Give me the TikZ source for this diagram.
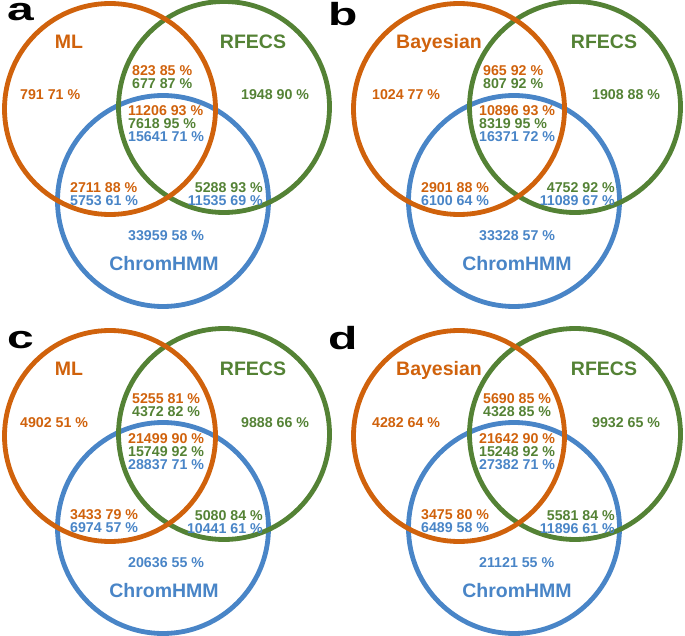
\documentclass[tikz,border=0pt]{standalone}
\usepackage{fontspec}
\setmainfont{Liberation Sans}
\definecolor{cO}{RGB}{208,98,12}
\definecolor{cG}{RGB}{84,130,53}
\definecolor{cB}{RGB}{73,133,199}
\begin{document}
\begin{tikzpicture}[x=1pt,y=-1pt,
  ring/.style={circle, draw, line width=4.8pt, minimum size=211pt, inner sep=0pt},
  numl/.style={font=\fontsize{14.2}{14.2}\selectfont\bfseries, inner sep=0pt, anchor=base west},
  numr/.style={font=\fontsize{14.2}{14.2}\selectfont\bfseries, inner sep=0pt, anchor=base east},
  ttl/.style={font=\fontsize{19.5}{19.5}\selectfont\bfseries, inner sep=0pt, anchor=base},
  plabel/.style={font=\fontsize{32}{32}\selectfont\bfseries, inner sep=0pt, anchor=base west}]
\useasboundingbox (0,0) rectangle (685,636);
% ---------- panel a ----------
\begin{scope}
\node[ring, draw=cB] (aB) at (163,201) {};
\node[ring, draw=cG] (aG) at (224,107) {};
\node[ring, draw=cO] (aO) at (110,109) {};
\node[plabel] (aLab) at (7,21) {\scalebox{1.5}[1]{a}};
\node[ttl, text=cO] (aT1) at (69,48.5) {ML};
\node[ttl, text=cG] (aT2) at (253,48.5) {RFECS};
\node[ttl, text=cB] (aT3) at (164,270.5) {ChromHMM};
\node[numl, text=cO] (aL) at (20,100) {791 71 \%};
\node[numl, text=cO] (aU1) at (132,76) {823 85 \%};
\node[numl, text=cG] (aU2) at (132,89) {677 87 \%};
\node[numl, text=cG] (aR) at (241,100) {1948 90 \%};
\node[numl, text=cO] (aC1) at (128,116) {11206 93 \%};
\node[numl, text=cG] (aC2) at (128,129) {7618 95 \%};
\node[numl, text=cB] (aC3) at (128,142) {15641 71 \%};
\node[numl, text=cO] (aBL1) at (70,192.5) {2711 88 \%};
\node[numl, text=cB] (aBL2) at (70,205.5) {5753 61 \%};
\node[numr, text=cG] (aBR1) at (263,193) {5288 93 \%};
\node[numr, text=cB] (aBR2) at (263,206) {11535 69 \%};
\node[numl, text=cB] (aBot) at (128,240.5) {33959 58 \%};
\end{scope}
% ---------- panel b ----------
\begin{scope}[shift={(351,0)}]
\node[ring, draw=cB] (bB) at (163,201) {};
\node[ring, draw=cG] (bG) at (224,107) {};
\node[ring, draw=cO] (bO) at (108,109) {};
\node[plabel] (bLab) at (-23,26) {\scalebox{1.5}[1]{b}};
\node[ttl, text=cO] (bT1) at (88,48.5) {Bayesian};
\node[ttl, text=cG] (bT2) at (253,48.5) {RFECS};
\node[ttl, text=cB] (bT3) at (166,270.5) {ChromHMM};
\node[numl, text=cO] (bL) at (21,100) {1024 77 \%};
\node[numl, text=cO] (bU1) at (132,76) {965 92 \%};
\node[numl, text=cG] (bU2) at (132,89) {807 92 \%};
\node[numl, text=cG] (bR) at (241,100) {1908 88 \%};
\node[numl, text=cO] (bC1) at (128,116) {10896 93 \%};
\node[numl, text=cG] (bC2) at (128,129) {8319 95 \%};
\node[numl, text=cB] (bC3) at (128,142) {16371 72 \%};
\node[numl, text=cO] (bBL1) at (70,192.5) {2901 88 \%};
\node[numl, text=cB] (bBL2) at (70,205.5) {6100 64 \%};
\node[numr, text=cG] (bBR1) at (264,193) {4752 92 \%};
\node[numr, text=cB] (bBR2) at (264,206) {11089 67 \%};
\node[numl, text=cB] (bBot) at (128,240.5) {33328 57 \%};
\end{scope}
% ---------- panel c ----------
\begin{scope}[shift={(0,327)}]
\node[ring, draw=cB] (cB) at (163,201) {};
\node[ring, draw=cG] (cG) at (224,107) {};
\node[ring, draw=cO] (cO) at (110,109) {};
\node[plabel] (cLab) at (7,21) {\scalebox{1.5}[1]{c}};
\node[ttl, text=cO] (cT1) at (69,48.5) {ML};
\node[ttl, text=cG] (cT2) at (253,48.5) {RFECS};
\node[ttl, text=cB] (cT3) at (164,270.5) {ChromHMM};
\node[numl, text=cO] (cL) at (20,100) {4902 51 \%};
\node[numl, text=cO] (cU1) at (132,76) {5255 81 \%};
\node[numl, text=cG] (cU2) at (132,89) {4372 82 \%};
\node[numl, text=cG] (cR) at (241,100) {9888 66 \%};
\node[numl, text=cO] (cC1) at (128,116) {21499 90 \%};
\node[numl, text=cG] (cC2) at (128,129) {15749 92 \%};
\node[numl, text=cB] (cC3) at (128,142) {28837 71 \%};
\node[numl, text=cO] (cBL1) at (70,192.5) {3433 79 \%};
\node[numl, text=cB] (cBL2) at (70,205.5) {6974 57 \%};
\node[numr, text=cG] (cBR1) at (263,193) {5080 84 \%};
\node[numr, text=cB] (cBR2) at (263,206) {10441 61 \%};
\node[numl, text=cB] (cBot) at (128,240.5) {20636 55 \%};
\end{scope}
% ---------- panel d ----------
\begin{scope}[shift={(351,327)}]
\node[ring, draw=cB] (dB) at (163,201) {};
\node[ring, draw=cG] (dG) at (224,107) {};
\node[ring, draw=cO] (dO) at (108,109) {};
\node[plabel] (dLab) at (-23,22) {\scalebox{1.5}[1]{d}};
\node[ttl, text=cO] (dT1) at (88,48.5) {Bayesian};
\node[ttl, text=cG] (dT2) at (253,48.5) {RFECS};
\node[ttl, text=cB] (dT3) at (166,270.5) {ChromHMM};
\node[numl, text=cO] (dL) at (21,100) {4282 64 \%};
\node[numl, text=cO] (dU1) at (132,76) {5690 85 \%};
\node[numl, text=cG] (dU2) at (132,89) {4328 85 \%};
\node[numl, text=cG] (dR) at (241,100) {9932 65 \%};
\node[numl, text=cO] (dC1) at (128,116) {21642 90 \%};
\node[numl, text=cG] (dC2) at (128,129) {15248 92 \%};
\node[numl, text=cB] (dC3) at (128,142) {27382 71 \%};
\node[numl, text=cO] (dBL1) at (70,192.5) {3475 80 \%};
\node[numl, text=cB] (dBL2) at (70,205.5) {6489 58 \%};
\node[numr, text=cG] (dBR1) at (264,193) {5581 84 \%};
\node[numr, text=cB] (dBR2) at (264,206) {11896 61 \%};
\node[numl, text=cB] (dBot) at (128,240.5) {21121 55 \%};
\end{scope}
\end{tikzpicture}
\end{document}
